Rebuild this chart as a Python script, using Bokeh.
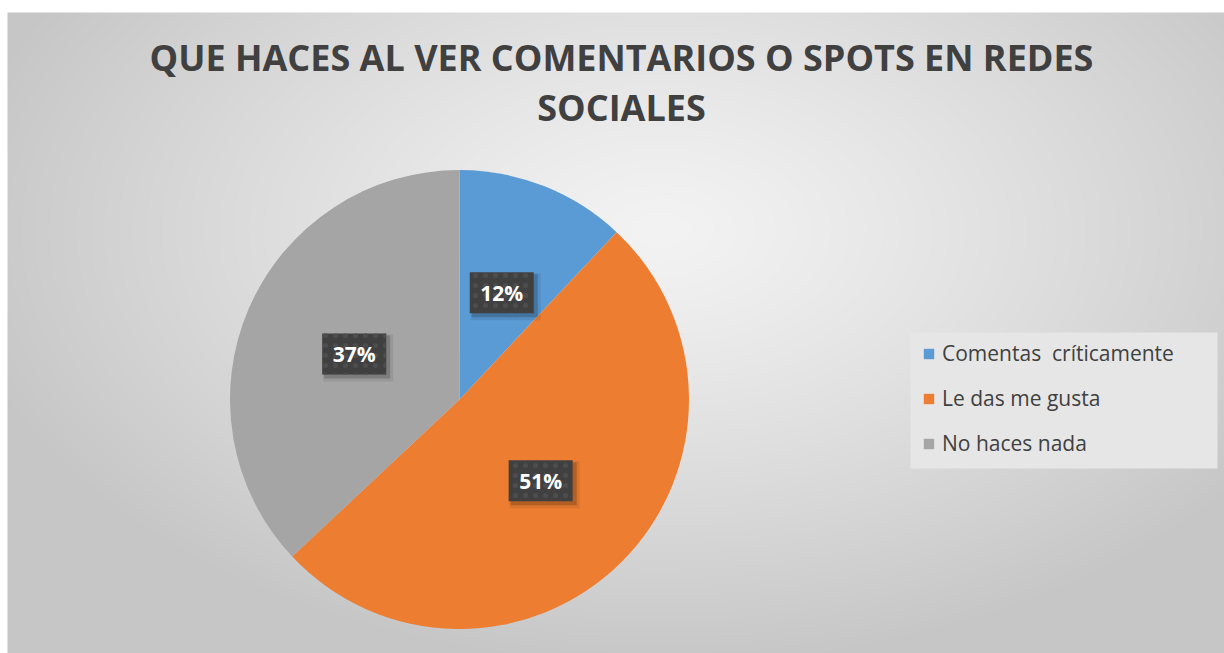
import numpy as np
from bokeh.plotting import figure
from bokeh.models import Range1d, Legend, LegendItem, ColumnDataSource
from bokeh.core.properties import value
from bokeh.embed import file_html
from bokeh.resources import INLINE

# ---- data ----
title_lines = ["QUE HACES AL VER COMENTARIOS O SPOTS EN REDES", "SOCIALES"]
categories = ["Comentas  críticamente", "Le das me gusta", "No haces nada"]
percentages = [12, 51, 37]
colors = ["#5B9BD5", "#ED7D31", "#A5A5A5"]

W, H = 1224, 653
p = figure(width=W, height=H, x_range=Range1d(0, W), y_range=Range1d(0, H),
           output_backend="svg", toolbar_location=None, min_border=0,
           x_axis_type=None, y_axis_type=None)
p.grid.visible = False
p.outline_line_color = None
p.background_fill_color = "white"
p.border_fill_color = "white"

# ---- radial gradient background (styling) ----
gx0, gy0 = 7, 12
gw, gh = W - gx0, H - gy0
gx = np.arange(gx0, W) + 0.5
gy = np.arange(gy0, H) + 0.5
X, Y = np.meshgrid(gx, gy)
t = np.sqrt(((X - 660) / 720) ** 2 + ((Y - 230) / 440) ** 2)
t = np.clip(t, 0, 1) ** 1.2
c = (243 - (243 - 198) * t).astype(np.uint32)
img = (np.uint32(255) << 24) | (c << 16) | (c << 8) | c
img = np.flipud(img).astype(np.uint32)
p.image_rgba(image=[img], x=gx0, y=0, dw=gw, dh=gh)

# ---- pie ----
cx, cy, R = 459, 254, 229.5
vals = np.array(percentages, dtype=float)
fr = vals / vals.sum()
cum = np.concatenate([[0], np.cumsum(fr)])
start = np.pi / 2 - cum[1:] * 2 * np.pi
end = np.pi / 2 - cum[:-1] * 2 * np.pi
mid = (start + end) / 2

src = ColumnDataSource(dict(start=start, end=end, color=colors, cat=categories))
wr = p.wedge(x=cx, y=cy, radius=R, start_angle="start", end_angle="end",
             fill_color="color", line_color=None, source=src)

# ---- data labels ----
lx = cx + 0.5 * R * np.cos(mid)
ly = cy + 0.5 * R * np.sin(mid)
labels = [f"{v}%" for v in percentages]
p.rect(x=lx + 4, y=ly - 4, width=70, height=47, width_units="screen", height_units="screen",
       fill_color="black", fill_alpha=0.08, line_color=None)
p.rect(x=lx + 3, y=ly - 3, width=66, height=43, width_units="screen", height_units="screen",
       fill_color="black", fill_alpha=0.18, line_color=None)
p.rect(x=lx, y=ly, width=64, height=41, width_units="screen", height_units="screen",
       fill_color="#404040", line_color=None, hatch_pattern="dot",
       hatch_color="#4d4d4d", hatch_scale=10, hatch_weight=1)
p.text(x=lx, y=ly, text=labels, text_font=value("Open Sans"), text_font_style="bold",
       text_font_size="21px", text_color="white", text_align="center", text_baseline="middle")

# ---- title ----
p.text(x=[621, 621], y=[H - 57, H - 106.5], text=title_lines, text_font=value("Open Sans"),
       text_font_style="bold", text_font_size="36px", text_color="#404040",
       text_align="center", text_baseline="middle")

# ---- legend ----
p.rect(x=1063.5, y=H - 400, width=307, height=136, fill_color="#e6e6e6", line_color=None)
items = [LegendItem(label=categories[i], renderers=[wr], index=i) for i in range(len(categories))]
legend = Legend(items=items, location=(922, 196), padding=0, margin=0, spacing=17,
                glyph_width=13, glyph_height=13, label_standoff=7, label_height=28,
                label_text_font="Open Sans", label_text_font_size="21px",
                label_text_color="#404040", background_fill_alpha=0, border_line_alpha=0)
p.add_layout(legend)

open("out.html", "w").write(file_html(p, INLINE))
